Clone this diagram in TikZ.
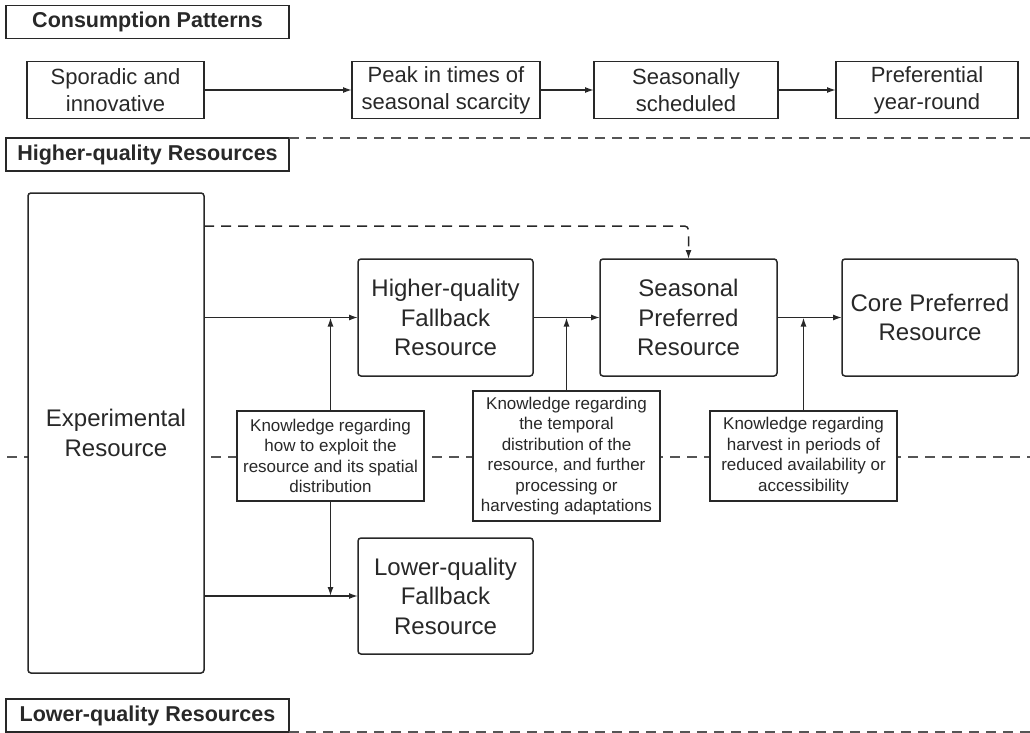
\documentclass[tikz,border=0pt]{standalone}
\usepackage{fontspec}
\setmainfont{Liberation Sans}
\usetikzlibrary{arrows.meta}
\definecolor{ink}{RGB}{40,40,40}
\definecolor{dashink}{RGB}{85,85,85}
\begin{document}
\begin{tikzpicture}[x=1pt,y=-1pt,inner sep=0pt,outer sep=0pt,line width=1.5pt,draw=ink,text=ink,
>={Latex[length=9pt,width=6pt]},
hdrbox/.style={draw=ink,fill=white,rectangle,minimum width=283pt,minimum height=33pt,font=\bfseries\fontsize{21.5}{26}\selectfont},
patbox/.style={draw=ink,fill=white,rectangle,minimum height=57pt,align=center,font=\fontsize{22}{27}\selectfont},
resblock/.style={draw=ink,fill=white,rectangle,rounded corners=3pt,minimum width=176pt,minimum height=117pt,align=center,font=\fontsize{24}{29.5}\selectfont},
knowbox/.style={draw=ink,fill=white,rectangle,minimum width=187pt,align=center,font=\fontsize{17}{20.5}\selectfont},
sepline/.style={draw=dashink,line width=1.2pt,dash pattern=on 10pt off 7pt}]
\useasboundingbox (0,0) rectangle (1030,733);
% separators behind the boxes
\coordinate (midL) at (7,457);
\coordinate (midR) at (1030,457);
\coordinate (highR) at (1030,138);
\coordinate (lowR) at (1030,732);
\draw[sepline] (midL) -- (midR);
% headers
\draw (147.5,22) node[hdrbox] (hcons) {Consumption Patterns};
\draw (147.5,154.5) node[hdrbox] (hhigh) {Higher-quality Resources};
\draw (147.5,715.5) node[hdrbox] (hlow) {Lower-quality Resources};
\draw[sepline] (hhigh.north east) -- (highR);
\draw[sepline] (hlow.south east) -- (lowR);
% consumption patterns
\draw (115.5,90) node[patbox,minimum width=177pt] (spor) {Sporadic and\\innovative};
\draw (446,90) node[patbox,minimum width=188pt] (peak) {Peak in times of\\seasonal scarcity};
\draw (686,90) node[patbox,minimum width=184pt] (sched) {Seasonally\\scheduled};
\draw (927,90) node[patbox,minimum width=182pt] (yround) {Preferential\\year-round};
\draw[->] (spor) -- (peak);
\draw[->] (peak) -- (sched);
\draw[->] (sched) -- (yround);
% resources
\draw (116,433) node[resblock,minimum height=480pt] (exper) {Experimental\\Resource};
\draw (445.5,317.5) node[resblock,minimum width=175pt] (hfall) {Higher-quality\\Fallback\\Resource};
\draw (688.5,317.5) node[resblock,minimum width=177pt] (spref) {Seasonal\\Preferred\\Resource};
\draw (930,317.5) node[resblock] (core) {Core Preferred\\Resource};
\draw (445.5,596) node[resblock,minimum width=175pt,minimum height=116pt] (lfall) {Lower-quality\\Fallback\\Resource};
% knowledge
\draw (330.5,456) node[knowbox,minimum height=90pt] (know1) {Knowledge regarding\\how to exploit the\\resource and its spatial\\distribution};
\draw (566.5,456) node[knowbox,minimum height=130pt] (know2) {Knowledge regarding\\the temporal\\distribution of the\\resource, and further\\processing or\\harvesting adaptations};
\draw (803.5,456) node[knowbox,minimum height=90pt] (know3) {Knowledge regarding\\harvest in periods of\\reduced availability or\\accessibility};
% connectors
\draw[->] (exper.east |- hfall.west) -- (hfall.west);
\draw[->] (exper.east |- lfall.west) -- (lfall.west);
\draw[->] (hfall.east) -- (spref.west);
\draw[->] (spref.east) -- (core.west);
\draw[->] (know1.north) -- (know1.north |- hfall.west);
\draw[->] (know1.south) -- (know1.south |- lfall.west);
\draw[->] (know2.north) -- (know2.north |- spref.west);
\draw[->] (know3.north) -- (know3.north |- core.west);
\draw[->,dash pattern=on 10pt off 7pt,rounded corners=4pt] ([yshift=-33pt]exper.north east) -| (spref.north);
\end{tikzpicture}
\end{document}
